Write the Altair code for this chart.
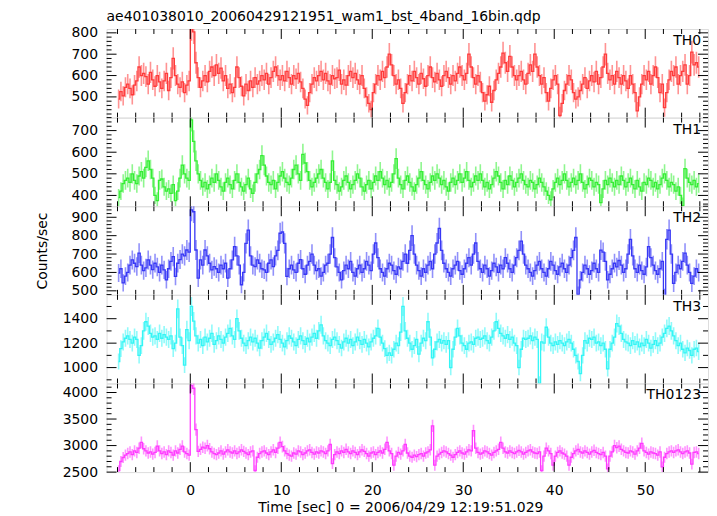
import altair as alt
import pandas as pd
import numpy as np

# ---- data (0.25 s bins) ----
T_START = -7.875
BIN = 0.25

th0 = [490, 525, 505, 545, 560, 540, 510, 555, 575, 640, 600, 610, 595, 560, 615, 580,
       550, 600, 570, 540, 575, 610, 530, 590, 680, 600, 560, 545, 570, 520, 555, 575,
       820, 805, 660, 590, 545, 575, 600, 570, 620, 640, 600, 650, 610, 635, 575, 600,
       540, 560, 520, 545, 640, 590, 550, 505, 560, 530, 575, 545, 590, 560, 575, 600,
       580, 610, 560, 590, 620, 640, 600, 580, 600, 575, 620, 590, 560, 600, 585, 610,
       570, 540, 490, 460, 520, 560, 590, 575, 600, 620, 580, 610, 575, 560, 600, 585,
       590, 625, 560, 580, 555, 600, 620, 590, 610, 580, 560, 600, 540, 500, 470, 440,
       520, 560, 600, 580, 620, 590, 640, 700, 650, 600, 560, 580, 540, 470, 520, 560,
       600, 575, 620, 590, 560, 610, 585, 550, 600, 640, 590, 570, 610, 580, 550, 600,
       620, 590, 560, 600, 575, 610, 640, 600, 580, 610, 700, 640, 590, 560, 600, 570,
       520, 480, 510, 550, 475, 530, 580, 610, 640, 705, 660, 620, 690, 640, 600, 580,
       600, 620, 580, 560, 610, 650, 620, 700, 640, 600, 560, 590, 520, 480, 540, 580,
       600, 560, 413, 470, 530, 560, 600, 580, 520, 490, 500, 530, 560, 590, 540, 575,
       600, 570, 620, 560, 590, 640, 700, 610, 580, 600, 560, 620, 590, 560, 600, 575,
       540, 600, 560, 520, 435, 500, 560, 600, 580, 620, 560, 600, 640, 590, 520, 560,
       450, 520, 580, 620, 600, 640, 560, 600, 620, 650, 560, 600, 710, 650, 660, 640]

th1 = [390, 420, 455, 470, 480, 460, 500, 470, 455, 490, 510, 480, 530, 560, 520, 480,
       400, 376, 470, 476, 440, 420, 430, 410, 450, 376, 420, 480, 540, 500, 480, 470,
       750, 650, 560, 500, 470, 440, 460, 430, 450, 480, 460, 500, 470, 440, 420, 460,
       480, 450, 430, 470, 500, 460, 440, 420, 450, 480, 430, 410, 460, 500, 520, 584,
       540, 490, 460, 450, 470, 430, 460, 490, 510, 480, 460, 450, 480, 520, 540, 500,
       470, 590, 550, 510, 470, 440, 460, 480, 500, 520, 480, 460, 430, 460, 560, 470,
       450, 420, 440, 470, 490, 460, 430, 450, 470, 500, 480, 440, 420, 450, 470, 430,
       460, 490, 470, 510, 480, 450, 470, 440, 460, 500, 570, 480, 450, 430, 470, 490,
       460, 440, 420, 450, 480, 510, 470, 450, 430, 460, 490, 470, 500, 480, 450, 470,
       440, 420, 460, 480, 450, 470, 500, 460, 480, 510, 470, 440, 460, 490, 470, 500,
       470, 440, 460, 430, 450, 480, 510, 490, 460, 430, 470, 450, 490, 470, 440, 460,
       480, 500, 470, 450, 440, 470, 460, 430, 450, 480, 460, 440, 420, 400, 380, 430,
       460, 480, 450, 470, 500, 470, 440, 460, 480, 450, 470, 500, 460, 430, 450, 480,
       470, 440, 460, 450, 367, 430, 470, 450, 480, 460, 440, 470, 450, 490, 470, 440,
       460, 480, 450, 430, 470, 440, 420, 460, 450, 480, 470, 440, 460, 430, 450, 480,
       500, 470, 440, 460, 450, 420, 440, 400, 353, 524, 480, 460, 450, 470, 440, 455]

th2 = [597, 620, 543, 580, 600, 640, 668, 650, 632, 705, 640, 610, 625, 668, 640, 615,
       650, 630, 600, 640, 614, 560, 620, 660, 686, 578, 650, 670, 700, 690, 722, 710,
       940, 930, 722, 569, 668, 640, 722, 690, 650, 614, 632, 620, 600, 640, 620, 650,
       569, 620, 668, 740, 690, 640, 533, 600, 758, 830, 690, 640, 632, 668, 650, 620,
       614, 600, 650, 668, 632, 690, 720, 813, 820, 758, 578, 620, 640, 614, 600, 650,
       670, 620, 590, 640, 660, 700, 640, 610, 620, 580, 600, 640, 650, 700, 790, 680,
       630, 600, 560, 610, 640, 620, 660, 600, 580, 620, 640, 600, 620, 660, 640, 610,
       700, 760, 680, 620, 600, 580, 620, 650, 640, 610, 590, 630, 620, 660, 700, 650,
       720, 800, 700, 640, 610, 580, 620, 600, 640, 660, 620, 700, 760, 840, 720, 650,
       620, 600, 580, 620, 640, 660, 610, 590, 620, 650, 680, 640, 700, 760, 660, 620,
       600, 640, 620, 580, 610, 650, 630, 600, 640, 620, 680, 650, 620, 600, 640, 680,
       720, 770, 700, 640, 620, 600, 580, 610, 640, 660, 620, 600, 580, 620, 660, 640,
       610, 590, 630, 650, 620, 600, 640, 680, 720, 790, 480, 560, 600, 640, 620, 590,
       610, 650, 620, 600, 721, 710, 660, 560, 590, 620, 650, 630, 665, 640, 600, 620,
       700, 780, 690, 620, 600, 640, 610, 590, 630, 740, 680, 640, 610, 590, 620, 660,
       468, 780, 830, 700, 540, 600, 640, 620, 660, 705, 640, 600, 540, 580, 620, 600]

th3 = [1050, 1155, 1210, 1240, 1260, 1230, 1200, 1250, 1230, 1100, 1180, 1300, 1375, 1340, 1280, 1250,
       1260, 1230, 1280, 1240, 1270, 1250, 1230, 1260, 1155, 1200, 1480, 1250, 1180, 1020, 1310, 1220,
       1500, 1380, 1260, 1200, 1230, 1180, 1250, 1210, 1240, 1280, 1190, 1220, 1260, 1230, 1200, 1250,
       1280, 1320, 1260, 1230, 1400, 1300, 1240, 1200, 1180, 1220, 1250, 1210, 1240, 1200, 1160, 1220,
       1250, 1280, 1230, 1190, 1210, 1240, 1270, 1230, 1200, 1170, 1220, 1260, 1240, 1210, 1180, 1230,
       1260, 1220, 1190, 1240, 1210, 1250, 1280, 1240, 1300, 1350, 1260, 1220, 1200, 1180, 1230, 1250,
       1220, 1190, 1160, 1210, 1240, 1200, 1230, 1180, 1210, 1250, 1220, 1190, 1230, 1200, 1170, 1210,
       1240, 1260, 1320, 1250, 1200, 1155, 1100, 1120, 1100, 1150, 1200, 1180, 1290, 1500, 1300, 1240,
       1200, 1150, 1180, 1230, 1110, 1200, 1240, 1220, 1375, 1250, 1080, 1150, 1210, 1230, 1200, 1220,
       1190, 1220, 1000, 1150, 1250, 1320, 1260, 1200, 1180, 1150, 1200, 1210, 1190, 1240, 1250, 1230,
       1240, 1260, 1220, 1200, 1250, 1300, 1375, 1320, 1280, 1260, 1240, 1270, 1230, 1250, 1200, 1180,
       1000, 1150, 1240, 1230, 1240, 1260, 1220, 1250, 1230, 870, 1210, 1200, 1330, 1250, 1200, 1180,
       1210, 1190, 1220, 1200, 1180, 1210, 1230, 1200, 1150, 1100, 1050, 950, 1100, 1220, 1200, 1240,
       1230, 1250, 1200, 1210, 1180, 1200, 1150, 990, 1150, 1200, 1250, 1360, 1340, 1280, 1230, 1210,
       1200, 1180, 1220, 1190, 1210, 1170, 1200, 1180, 1230, 1200, 1160, 1190, 1220, 1180, 1200, 1250,
       1280, 1320, 1340, 1300, 1260, 1220, 1180, 1200, 1150, 1120, 1160, 1140, 1100, 1150, 1160, 1130]

th0123 = [2530, 2700, 2775, 2820, 2850, 2880, 2830, 2900, 2870, 2950, 3060, 2940, 2900, 2860, 2880, 2840,
          2870, 2990, 2900, 2850, 2880, 2830, 2900, 2870, 2820, 2900, 2860, 2930, 2990, 2880, 2850, 2820,
          4130, 4080, 3300, 2890, 2930, 2970, 2950, 3000, 2940, 2880, 2850, 2830, 2860, 2900, 2840, 2880,
          2920, 2880, 2860, 2900, 2850, 2880, 2920, 2890, 2860, 2830, 2880, 2900, 2530, 2780, 2850, 2880,
          2900, 2860, 2830, 2880, 2920, 2870, 2950, 3060, 2980, 2900, 2850, 2820, 2800, 2860, 2840, 2900,
          2880, 2830, 2860, 2900, 2920, 2870, 2840, 2880, 2860, 2900, 2880, 2850, 2900, 3020, 2660, 2830,
          2880, 2850, 2900, 2870, 2930, 2880, 2850, 2900, 2870, 2830, 2880, 2920, 2890, 2850, 2800, 2860,
          2880, 2830, 2870, 2900, 2860, 2930, 3060, 2900, 2850, 2630, 2800, 2870, 2840, 2900, 3020, 2860,
          2800, 2780, 2820, 2790, 2830, 2850, 2800, 2860, 2880, 2920, 3370, 2630, 2800, 2840, 2870, 2900,
          2880, 2850, 2820, 2780, 2830, 2870, 2900, 2860, 2840, 2880, 2920, 2900, 3280, 2950, 2870, 2840,
          2860, 2900, 2880, 2850, 2820, 2870, 2900, 2930, 3060, 2950, 2880, 2860, 2900, 2870, 2850, 2880,
          2910, 2880, 2840, 2870, 2900, 2920, 2880, 2860, 2850, 2880, 2530, 2800, 2950, 2900, 2850, 2630,
          2800, 2870, 2900, 2860, 2840, 2800, 2630, 2780, 2850, 2900, 2930, 2880, 2860, 2900, 2870, 2840,
          2880, 2910, 2870, 2850, 2830, 2870, 2800, 2560, 2800, 2880, 3000, 2960, 2990, 2930, 2900, 2870,
          2860, 2900, 2880, 2840, 2900, 2950, 3040, 2900, 2870, 2840, 2880, 2860, 2850, 2820, 2880, 2600,
          2780, 2850, 2880, 2900, 2870, 2900, 2920, 2880, 2850, 2880, 2900, 2860, 2650, 2870, 2880, 2850]

x_major = [0, 10, 20, 30, 40, 50]
x_minor = [-8, -6, -4, -2, 2, 4, 6, 8, 12, 14, 16, 18, 22, 24, 26, 28, 32, 34, 36, 38,
           42, 44, 46, 48, 52, 54, 56]

TITLE = "ae401038010_20060429121951_wam1_bst_4band_16bin.qdp"
XTITLE = "Time [sec] 0 = 2006/04/29 12:19:51.029"
FONT = "DejaVu Sans"

W, H = 604, 89
XDOM = [-9.2, 56.9]
times = [T_START + BIN * i for i in range(len(th0))]


def panel(name, vals, color, ydom, labels, minor_step, last=False, ytitle=False, first=False):
    df = pd.DataFrame({"t": times, "v": vals})
    err = np.sqrt(df["v"] / BIN)
    df["lo"] = df["v"] - err
    df["hi"] = df["v"] + err

    xs = alt.Scale(domain=XDOM, nice=False, zero=False)
    ys = alt.Scale(domain=ydom, nice=False, zero=False)

    if last:
        xaxis = alt.Axis(values=x_major, tickSize=0, labelPadding=11, domain=False, grid=False,
                         labelFontSize=14, labelFont=FONT, labelColor="black",
                         titleFontSize=14, titleFont=FONT, titleFontWeight="normal",
                         titleColor="black", titlePadding=4, titleX=295)
        xtitle = XTITLE
    else:
        xaxis = None
        xtitle = None
    yk = dict(values=labels, format="d", tickSize=0, labelPadding=9, domain=False, grid=False,
              labelFontSize=14, labelFont=FONT, labelColor="black")
    if ytitle:
        yk.update(titleFontSize=14, titleFont=FONT, titleFontWeight="normal", titleColor="black",
                  titleX=-64, titleY=H / 2, titleAngle=270, titleAlign="center",
                  titleBaseline="middle")
    yaxis = alt.Axis(**yk)
    yt = "Counts/sec" if ytitle else None

    def X(f):
        return alt.X(f, type="quantitative", scale=xs, axis=xaxis, title=xtitle)

    def Y(f):
        return alt.Y(f, type="quantitative", scale=ys, axis=yaxis, title=yt)

    base = alt.Chart(df)
    ebar = base.mark_rule(color=color, opacity=0.55, strokeWidth=1.6, clip=True).encode(
        x=X("t"), y=Y("lo"), y2="hi")
    line = base.mark_line(interpolate="step", color=color, strokeWidth=1.3, clip=True).encode(
        x=X("t"), y=Y("v"))

    xmaj = alt.Chart(pd.DataFrame({"t": x_major}))
    xmin = alt.Chart(pd.DataFrame({"t": x_minor}))
    yminv = []
    v = int(np.ceil(ydom[0] / minor_step)) * minor_step
    while v <= ydom[1]:
        if v not in labels:
            yminv.append(v)
        v += minor_step
    ymaj = alt.Chart(pd.DataFrame({"v": labels}))
    ymin = alt.Chart(pd.DataFrame({"v": yminv}))

    tk = dict(color="black", strokeWidth=1)
    layers = [ebar, line,
              xmaj.mark_rule(**tk).encode(x=X("t"), y=alt.value(0), y2=alt.value(10)),
              xmaj.mark_rule(**tk).encode(x=X("t"), y=alt.value(H), y2=alt.value(H - 10)),
              xmin.mark_rule(**tk, clip=True).encode(x=X("t"), y=alt.value(0), y2=alt.value(5)),
              xmin.mark_rule(**tk, clip=True).encode(x=X("t"), y=alt.value(H), y2=alt.value(H - 5)),
              ymaj.mark_rule(**tk).encode(y=Y("v"), x=alt.value(0), x2=alt.value(10)),
              ymaj.mark_rule(**tk).encode(y=Y("v"), x=alt.value(W), x2=alt.value(W - 10)),
              ymin.mark_rule(**tk).encode(y=Y("v"), x=alt.value(0), x2=alt.value(5)),
              ymin.mark_rule(**tk).encode(y=Y("v"), x=alt.value(W), x2=alt.value(W - 5)),
              alt.Chart(pd.DataFrame({"n": [name]})).mark_text(
                  align="right", baseline="alphabetic", fontSize=14, font=FONT, color="black"
              ).encode(x=alt.value(W - 7), y=alt.value(16), text="n:N"),
              ]
    if first:
        layers.append(
            alt.Chart(pd.DataFrame({"n": [TITLE]})).mark_text(
                align="left", baseline="alphabetic", fontSize=14, font=FONT, color="black"
            ).encode(x=alt.value(0), y=alt.value(-8), text="n:N"))
    return alt.layer(*layers).properties(width=W, height=H)


p0 = panel("TH0", th0, "#ff3a3a", [403, 818], [500, 600, 700, 800], 20, first=True)
p1 = panel("TH1", th1, "#33ee33", [350, 760], [400, 500, 600, 700], 20)
p2 = panel("TH2", th2, "#3737f5", [478, 960], [500, 600, 700, 800, 900], 20, ytitle=True)
p3 = panel("TH3", th3, "#33f5f5", [870, 1595], [1000, 1200, 1400], 100)
p4 = panel("TH0123", th0123, "#ff3aff", [2500, 4170], [2500, 3000, 3500, 4000], 100, last=True)

chart = alt.vconcat(p0, p1, p2, p3, p4, spacing=0, bounds="flush").properties(
    padding={"left": 27, "top": 0, "right": 0, "bottom": 0}
).configure_view(stroke="black", strokeWidth=1.2).configure(background="white")

chart.save("out.html", embed_options={"renderer": "svg", "actions": False})
